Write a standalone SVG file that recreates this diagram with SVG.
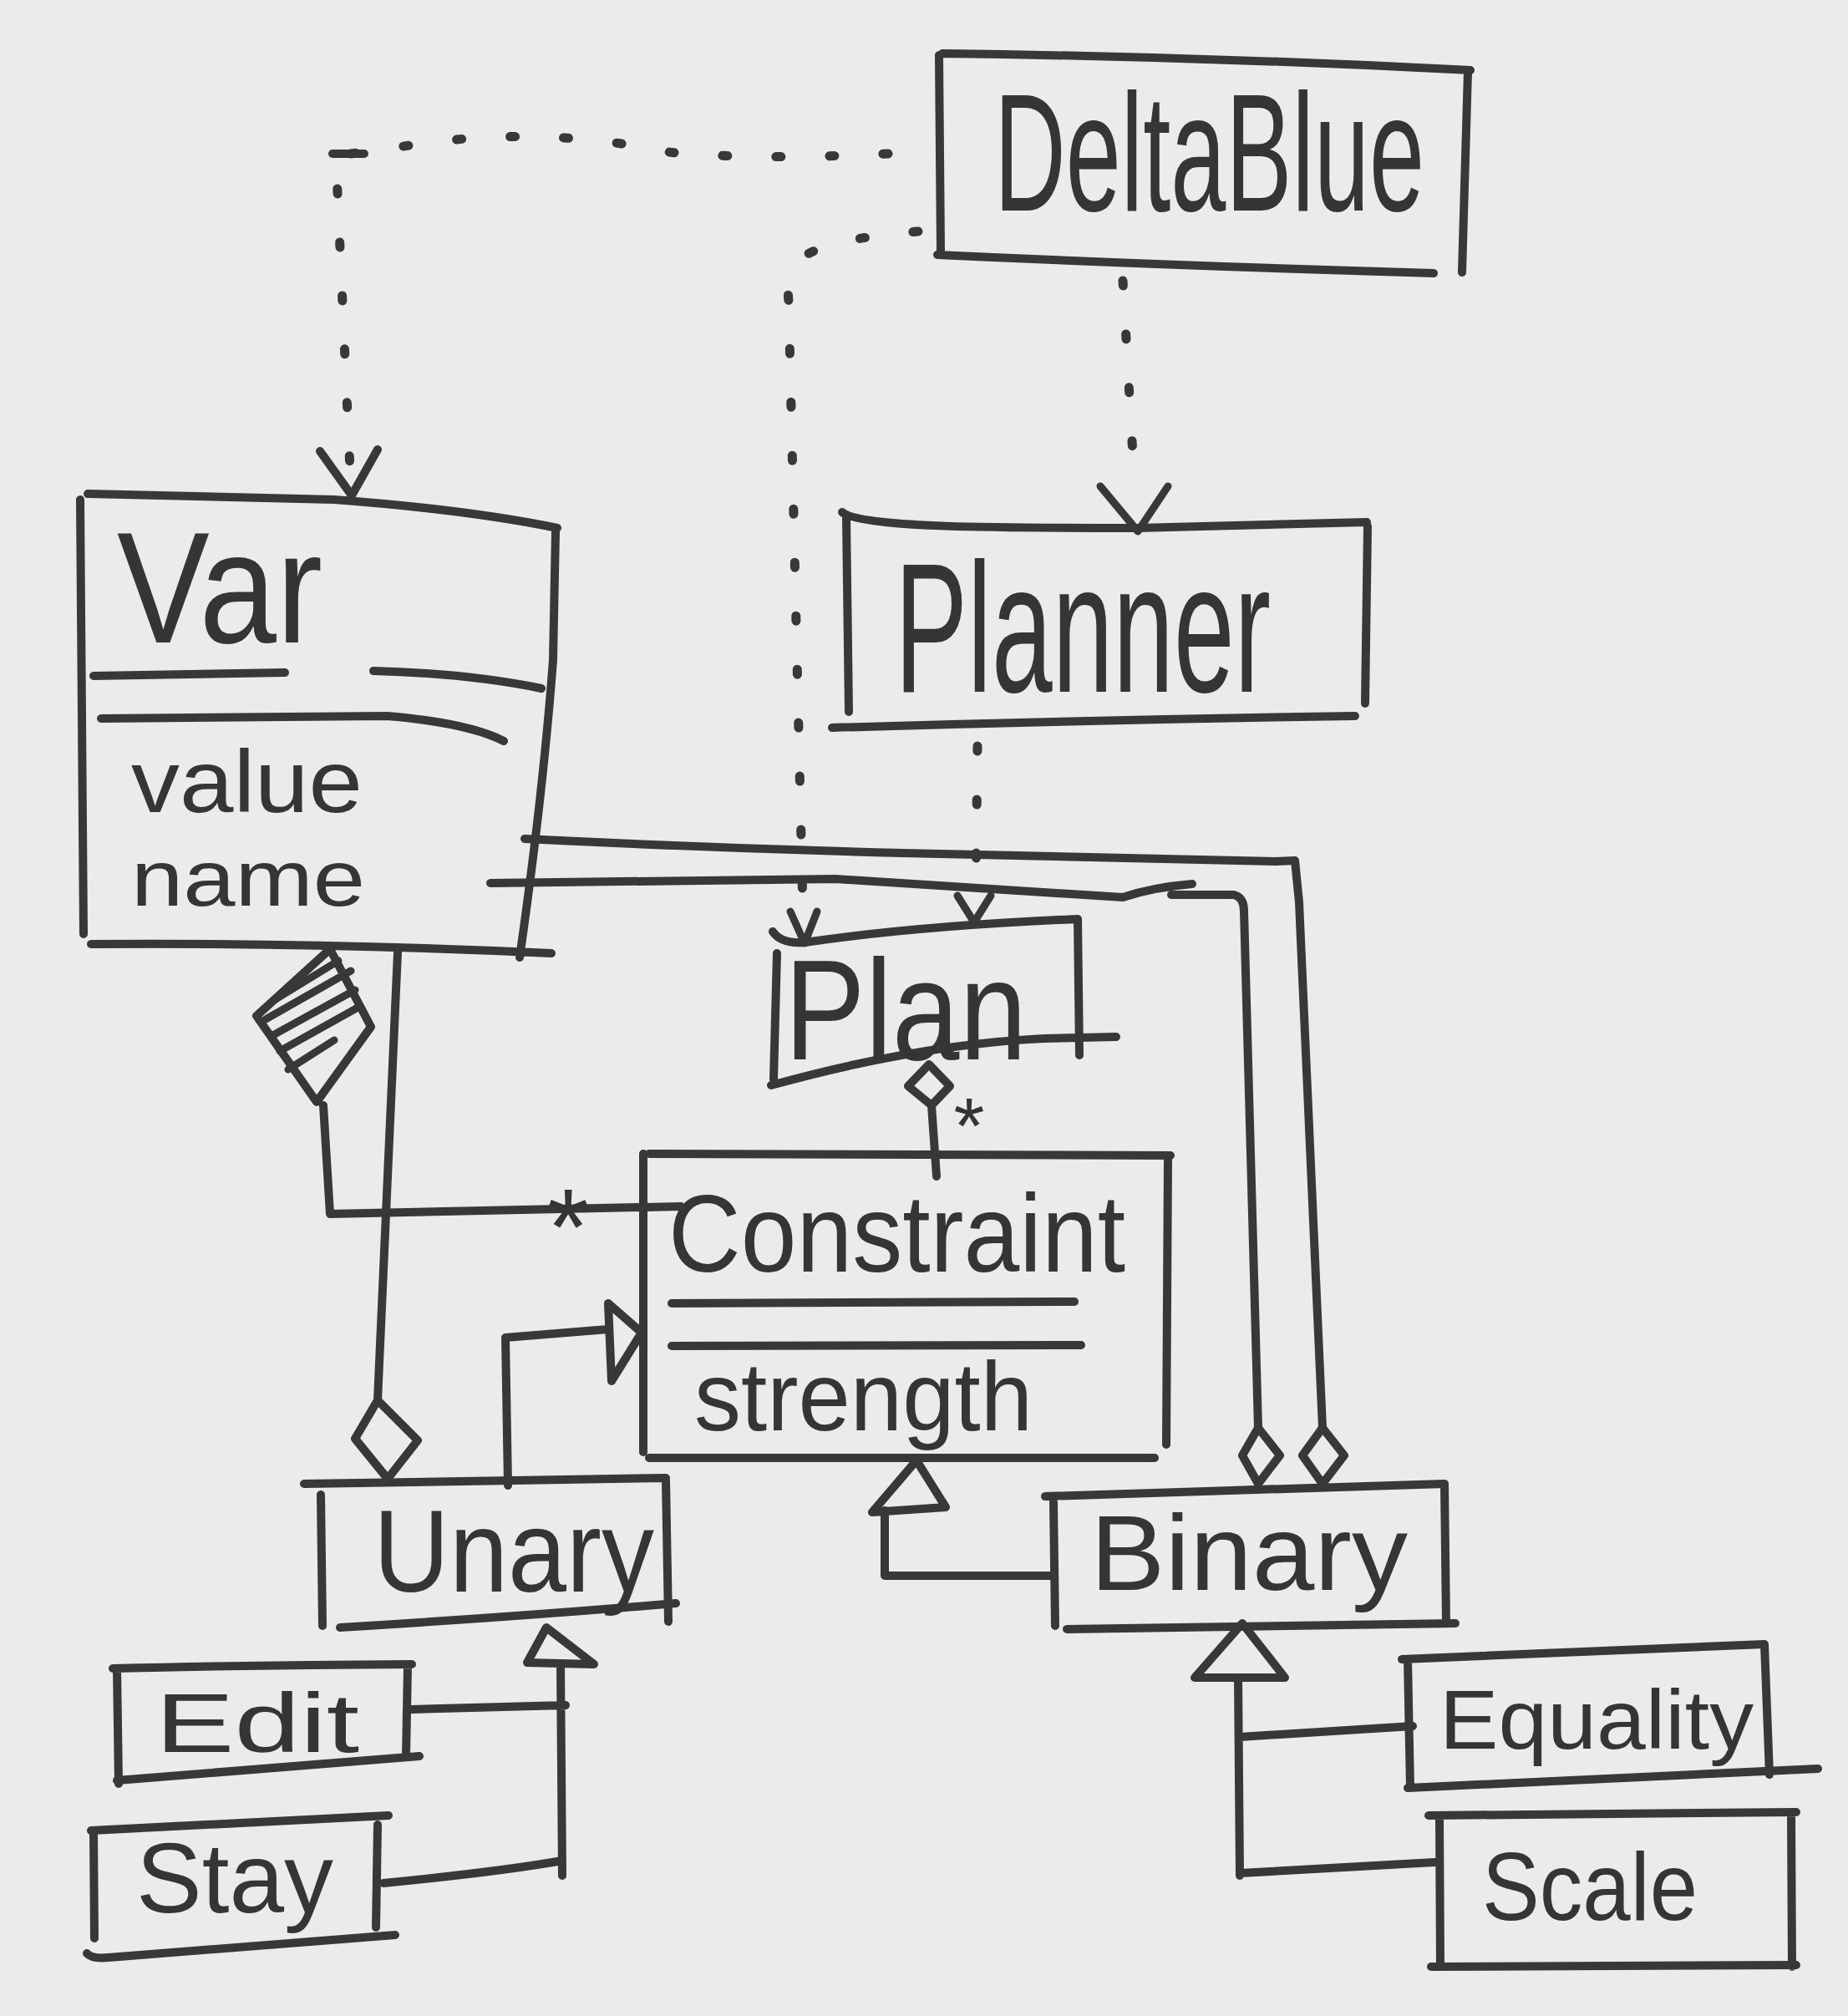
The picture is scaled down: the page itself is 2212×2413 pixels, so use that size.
<svg xmlns="http://www.w3.org/2000/svg" width="2212" height="2413" viewBox="0 0 2212 2413">
<style>
.ln{fill:none;stroke:#383838;stroke-width:10;stroke-linecap:round;stroke-linejoin:round}
.hd{fill:none;stroke:#383838;stroke-width:9;stroke-linecap:round;stroke-linejoin:round}
.dot{fill:none;stroke:#383838;stroke-width:11;stroke-linecap:round;stroke-dasharray:6 58}
.t{font-family:"Liberation Sans",Arial,sans-serif;fill:#353535}
</style>
<rect width="2212" height="2413" fill="#ebebeb"/>

<g id="DeltaBlue">
<path class="ln" d="M1128,64 Q1450,68 1760,84 M1124,66 L1126,302 M1757,86 L1750,326 M1122,305 Q1400,318 1716,327"/>
<text class="t" x="1190" y="252" font-size="200" textLength="515" lengthAdjust="spacingAndGlyphs">DeltaBlue</text>
</g>

<g id="Planner">
<path class="ln" d="M1008,613 C1030,632 1200,632 1361,632 L1636,625 M1013,620 L1016,852 M1637,630 L1634,842 M996,871 Q1300,862 1622,857"/>
<text class="t" x="1071" y="828" font-size="220" textLength="450" lengthAdjust="spacingAndGlyphs">Planner</text>
</g>

<g id="Var">
<path class="ln" d="M105,591 L400,598 Q560,610 667,632 M96,598 L100,1118 M665,637 L662,790 Q650,950 622,1146 M109,1130 Q380,1128 660,1141 M112,809 L341,805 M447,803 Q560,806 648,824 M121,860 L463,857 Q560,865 603,887"/>
<text class="t" x="140" y="769" font-size="190" textLength="246" lengthAdjust="spacingAndGlyphs">Var</text>
<text class="t" x="157" y="972" font-size="105" textLength="277" lengthAdjust="spacingAndGlyphs">value</text>
<text class="t" x="157" y="1084" font-size="95" textLength="280" lengthAdjust="spacingAndGlyphs">name</text>
</g>

<g id="Plan">
<path class="ln" d="M925,1115 Q935,1130 963,1128 Q1100,1108 1290,1100 L1292,1263 M930,1141 L926,1292 M923,1299 Q1100,1250 1250,1243 L1336,1241"/>
<text class="t" x="939" y="1268" font-size="170" textLength="290" lengthAdjust="spacingAndGlyphs">Plan</text>
</g>

<g id="Constraint">
<path class="ln" d="M777,1381 L1401,1383 M770,1381 L770,1738 M1398,1386 L1396,1729 M777,1745 L1382,1745 M804,1560 L1286,1558 M804,1611 L1294,1610"/>
<text class="t" x="800" y="1522" font-size="132" textLength="547" lengthAdjust="spacingAndGlyphs">Constraint</text>
<text class="t" x="831" y="1712" font-size="116" textLength="405" lengthAdjust="spacingAndGlyphs">strength</text>
</g>

<g id="Unary">
<path class="ln" d="M364,1776 L797,1769 M384,1789 L386,1946 M797,1772 L800,1941 M407,1948 Q620,1935 809,1919"/>
<text class="t" x="447" y="1905" font-size="140" textLength="336" lengthAdjust="spacingAndGlyphs">Unary</text>
</g>

<g id="Binary">
<path class="ln" d="M1251,1791 L1729,1776 M1261,1798 L1263,1946 M1729,1776 L1731,1943 M1277,1950 L1742,1943"/>
<text class="t" x="1305" y="1903" font-size="128" textLength="380" lengthAdjust="spacingAndGlyphs">Binary</text>
</g>

<g id="Edit">
<path class="ln" d="M135,1997 Q300,1993 493,1992 M140,1997 L142,2135 M488,1995 L486,2102 M140,2131 Q300,2118 502,2102"/>
<text class="t" x="186" y="2097" font-size="100" textLength="244" lengthAdjust="spacingAndGlyphs">Edit</text>
</g>

<g id="Stay">
<path class="ln" d="M109,2191 L465,2173 M112,2191 L113,2320 M452,2184 L450,2307 M104,2338 Q110,2345 130,2343 L473,2316"/>
<text class="t" x="163" y="2289" font-size="118" textLength="236" lengthAdjust="spacingAndGlyphs">Stay</text>
</g>

<g id="Equality">
<path class="ln" d="M1678,1986 L2112,1968 M1685,1986 L1688,2140 M2112,1968 L2118,2124 M1685,2140 L2176,2117"/>
<text class="t" x="1723" y="2093" font-size="100" textLength="376" lengthAdjust="spacingAndGlyphs">Equality</text>
</g>

<g id="Scale">
<path class="ln" d="M1710,2173 L2150,2169 M1723,2173 L1724,2352 M2144,2171 L2145,2354 M1713,2354 L2150,2352"/>
<text class="t" x="1774" y="2298" font-size="115" textLength="258" lengthAdjust="spacingAndGlyphs">Scale</text>
</g>

<g id="connectors">
<path class="dot" d="M1063,184 Q900,192 800,182 Q650,150 496,173 Q440,182 402,186 L420,585"/>
<path class="ln" d="M398,184 L436,184 M383,540 L421,593 L452,538"/>
<path class="dot" d="M1099,277 Q1000,285 965,305 Q940,330 944,360 L961,1090"/>
<path class="hd" d="M946,1091 L963,1129 L978,1091"/>
<path class="dot" d="M1344,336 L1358,580"/>
<path class="hd" d="M1317,582 L1362,636 L1398,582"/>
<path class="dot" d="M1170,893 L1168,1070"/>
<path class="hd" d="M1146,1072 L1166,1104 L1186,1072"/>
<path class="ln" d="M628,1004 Q850,1015 1080,1021 L1527,1031 L1550,1030 L1555,1080 L1583,1709"/>
<path class="ln" d="M1583,1709 L1559,1742 L1583,1776 L1609,1742 Z"/>
<path class="ln" d="M587,1057 L1000,1052 L1344,1074 Q1380,1062 1427,1058 M1402,1071 L1477,1071 Q1489,1074 1489,1090 L1506,1709"/>
<path class="ln" d="M1506,1709 L1487,1742 L1506,1776 L1532,1742 Z"/>
<path class="ln" d="M395,1136 L307,1216 L379,1319 L444,1229 Z M387,1323 L395,1453 L815,1444"/>
<path class="hd" d="M330,1196 L405,1150 M318,1220 L420,1162 M325,1240 L425,1185 M335,1258 L430,1205 M345,1280 L400,1245"/>
<text class="t" x="680" y="1514" font-size="130" text-anchor="middle">*</text>
<path class="ln" d="M476,1140 L452,1676 M452,1676 L425,1722 L464,1770 L500,1724 Z"/>
<path class="ln" d="M1112,1274 L1087,1300 L1115,1323 L1137,1300 Z M1115,1323 L1121,1408"/>
<text class="t" x="1160" y="1380" font-size="95" text-anchor="middle">*</text>
<path class="ln" d="M608,1778 L605,1601 L728,1591 M728,1560 L768,1595 L732,1653 Z"/>
<path class="ln" d="M1262,1886 L1059,1886 L1059,1808 M1044,1810 L1132,1804 L1097,1748 Z"/>
<path class="ln" d="M631,1990 L654,1948 L711,1992 Z M671,1992 L673,2245 M493,2046 L677,2041 M459,2254 Q600,2240 673,2227"/>
<path class="ln" d="M1430,2008 L1487,1943 L1538,2008 Z M1482,2008 L1484,2245 M1484,2079 L1691,2066 M1484,2242 L1717,2229"/>
</g>
</svg>
